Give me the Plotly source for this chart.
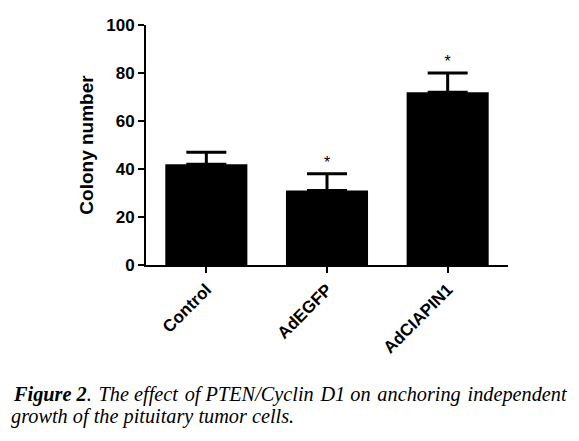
import plotly.graph_objects as go

categories = ["Control", "AdEGFP", "AdCIAPIN1"]
means = [42, 31, 72]
errors = [5, 7, 8]
significance = ["", "*", "*"]
y_ticks = [0, 20, 40, 60, 80, 100]

fig = go.Figure()
fig.add_trace(go.Bar(
    x=categories, y=means,
    marker=dict(color="black", line=dict(width=0)),
    width=0.68,
    showlegend=False, hoverinfo="skip",
))
fig.add_trace(go.Scatter(
    x=categories, y=[m + e for m, e in zip(means, errors)],
    mode="markers+text", marker=dict(size=1, opacity=0),
    error_y=dict(type="data", array=[0]*len(errors), arrayminus=errors, symmetric=False,
                 color="black", thickness=3, width=20),
    text=significance, textposition="top center",
    textfont=dict(family="Liberation Sans", size=16, color="black"),
    showlegend=False, hoverinfo="skip",
))

fig.update_layout(
    width=579, height=441,
    margin=dict(l=146, r=71, t=25, b=176, autoexpand=False),
    paper_bgcolor="white", plot_bgcolor="white",
    font=dict(family="Liberation Sans", color="black"),
)
fig.update_xaxes(
    range=[-0.5, 2.5], showline=True, linecolor="black", linewidth=2,
    ticks="outside", ticklen=6, tickwidth=2, tickcolor="black",
    tickangle=-45, tickfont=dict(family="Liberation Sans", size=17, weight="bold"),
    showgrid=False, zeroline=False, automargin=False,
)
fig.update_yaxes(
    range=[0, 100], tickvals=y_ticks, showline=True, linecolor="black", linewidth=2,
    ticks="outside", ticklen=6, tickwidth=2, tickcolor="black",
    tickfont=dict(family="Liberation Sans", size=17, weight="bold"),
    title=dict(text="Colony number", font=dict(family="Liberation Sans", size=19, weight="bold"), standoff=8),
    showgrid=False, zeroline=False, automargin=False,
)

sp = " \u200a"
caption_line1 = ("<b><i>Figure 2</i></b><i>." + sp + "The effect" + sp + "of PTEN/Cyclin" + sp
                 + "D1 on" + sp + "anchoring" + sp + "independent</i>")
caption_line2 = "<i>growth of the pituitary tumor cells.</i>"

fig.add_annotation(
    xref="paper", yref="paper", x=-135/362, y=-(394-265)/240,
    xanchor="left", yanchor="middle", showarrow=False, align="left",
    text=caption_line1,
    font=dict(family="Liberation Serif", size=20.3, color="black"),
)
fig.add_annotation(
    xref="paper", yref="paper", x=-137/362, y=-(416-265)/240,
    xanchor="left", yanchor="middle", showarrow=False, align="left",
    text=caption_line2,
    font=dict(family="Liberation Serif", size=20.3, color="black"),
)

fig.write_html("out.html", config={"displayModeBar": False},
               post_script="document.body.style.margin='0';")
